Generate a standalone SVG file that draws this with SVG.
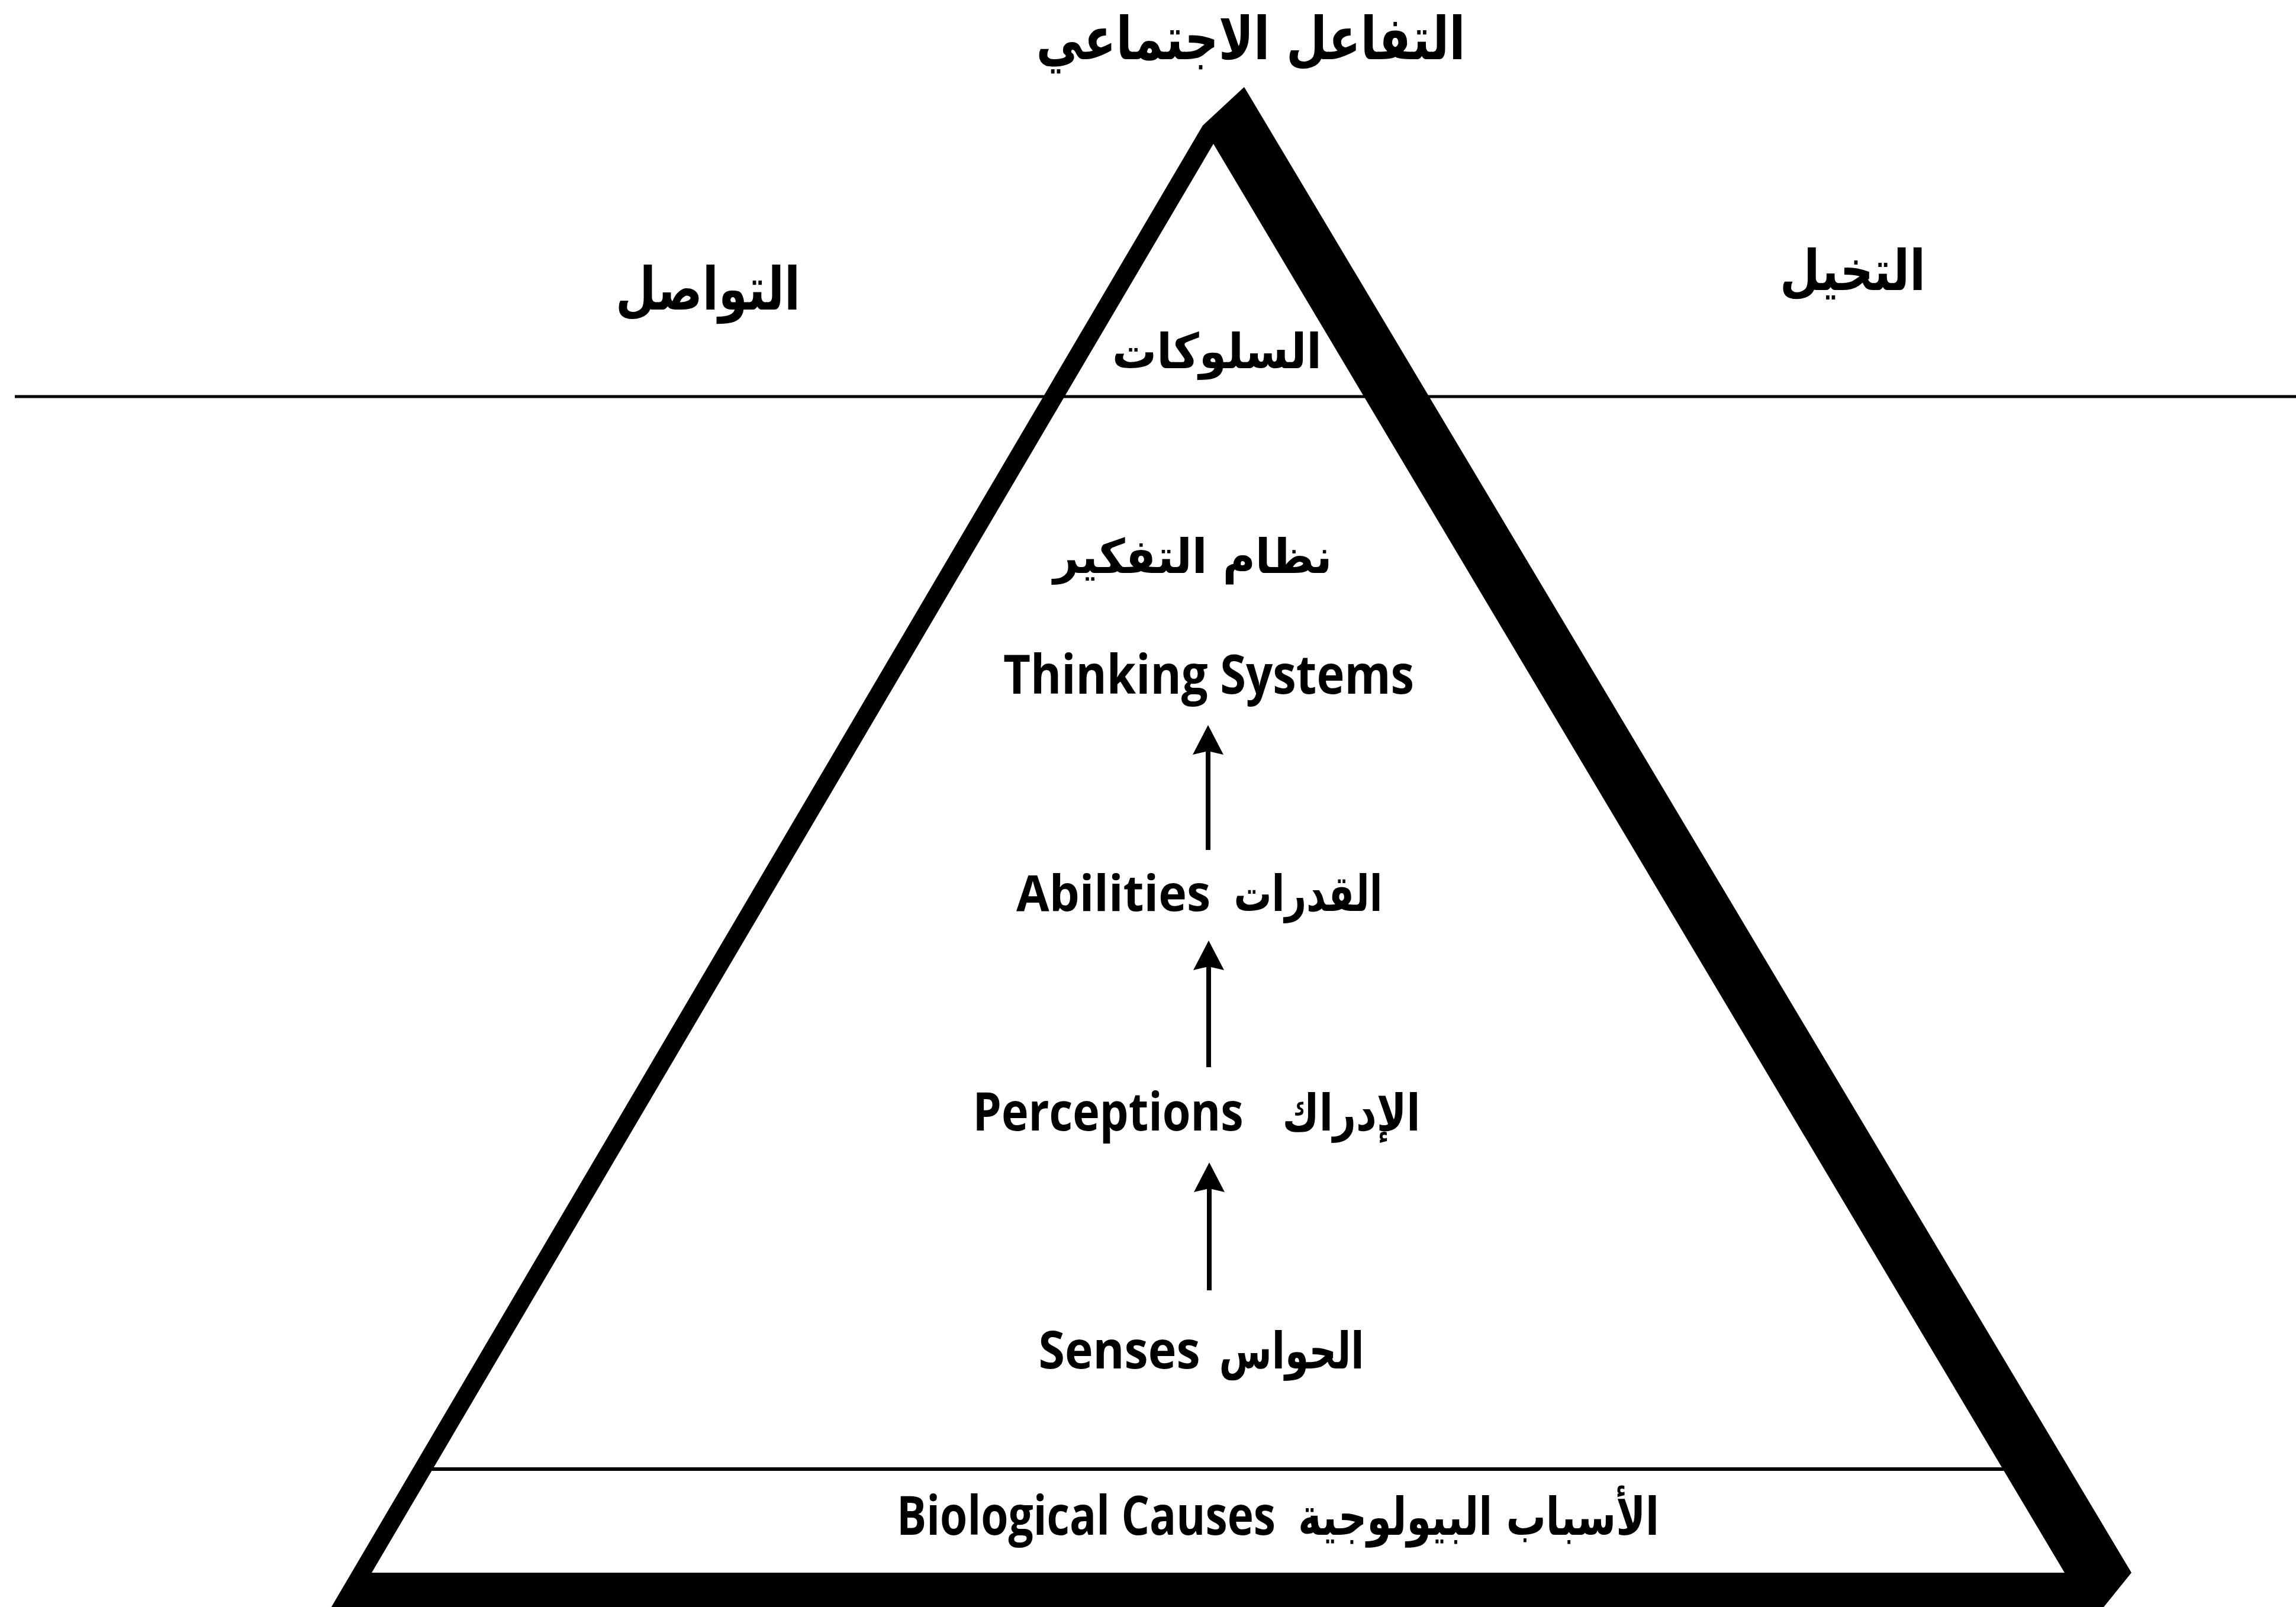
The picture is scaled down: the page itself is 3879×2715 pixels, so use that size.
<svg xmlns="http://www.w3.org/2000/svg" width="3879" height="2715" viewBox="0 0 3879 2715">
  <style>
    .ar { font-family: "DejaVu Sans", "Noto Sans", sans-serif; font-weight: bold; fill: #000; text-anchor: middle; }
    .en { font-family: "Open Sans", "DejaVu Sans", sans-serif; font-weight: 700; fill: #000; text-anchor: middle; }
    .rule { stroke: #000; fill: none; }
    .link { stroke: #000; stroke-width: 8; fill: none; marker-end: url(#head); }
  </style>
  <defs>
    <marker id="head" markerUnits="userSpaceOnUse" markerWidth="60" markerHeight="60" refX="6" refY="27" orient="auto">
      <path d="M50,27 L0,1 L6,27 L0,53 Z" fill="#000"/>
    </marker>
  </defs>

  <rect width="3879" height="2715" fill="#fff"/>

  <!-- surface line and the base divider -->
  <line class="rule" x1="25" y1="670" x2="3879" y2="670" stroke-width="5"/>
  <line class="rule" x1="715" y1="2482" x2="3395" y2="2482" stroke-width="6"/>

  <!-- pyramid outline with heavy shadowed right side and base -->
  <path id="pyramid" fill="#000" fill-rule="evenodd"
        d="M2102,147 L3601,2657 L3542,2730 L551,2730 L2032,212 Z M2050,243 L628,2657 L3488,2657 Z"/>

  <g id="apex-label">
    <text class="ar" x="2113" y="100" font-size="100" textLength="725" lengthAdjust="spacingAndGlyphs">التفاعل الاجتماعي</text>
  </g>
  <g id="communication">
    <text class="ar" x="1196" y="523" font-size="100" textLength="312" lengthAdjust="spacingAndGlyphs">التواصل</text>
  </g>
  <g id="imagination">
    <text class="ar" x="3130" y="490" font-size="95" textLength="246" lengthAdjust="spacingAndGlyphs">التخيل</text>
  </g>
  <g id="behaviours">
    <text class="ar" x="2056" y="622" font-size="82" textLength="354" lengthAdjust="spacingAndGlyphs">السلوكات</text>
  </g>
  <g id="thinking-systems">
    <text class="ar" x="2015" y="968" font-size="80" textLength="471" lengthAdjust="spacingAndGlyphs">نظام التفكير</text>
    <text class="en" x="2042" y="1172" font-size="92" textLength="694" lengthAdjust="spacingAndGlyphs">Thinking Systems</text>
  </g>
  <g id="abilities">
    <text class="en" x="1881" y="1539" font-size="84" textLength="328" lengthAdjust="spacingAndGlyphs">Abilities</text>
    <text class="ar" x="2210" y="1539" font-size="84" textLength="251" lengthAdjust="spacingAndGlyphs">القدرات</text>
  </g>
  <g id="perceptions">
    <text class="en" x="1872" y="1910" font-size="90" textLength="457" lengthAdjust="spacingAndGlyphs">Perceptions</text>
    <text class="ar" x="2283" y="1910" font-size="86" textLength="233" lengthAdjust="spacingAndGlyphs">الإدراك</text>
  </g>
  <g id="senses">
    <text class="en" x="1891" y="2312" font-size="88" textLength="273" lengthAdjust="spacingAndGlyphs">Senses</text>
    <text class="ar" x="2182" y="2312" font-size="86" textLength="245" lengthAdjust="spacingAndGlyphs">الحواس</text>
  </g>
  <g id="biological-causes">
    <text class="en" x="1835" y="2593" font-size="92" textLength="640" lengthAdjust="spacingAndGlyphs">Biological Causes</text>
    <text class="ar" x="2498" y="2593" font-size="88" textLength="610" lengthAdjust="spacingAndGlyphs">الأسباب البيولوجية</text>
  </g>

  <g id="connectors">
    <line class="link" x1="2041" y1="1436" x2="2041" y2="1269"/>
    <line class="link" x1="2042" y1="1803" x2="2042" y2="1633"/>
    <line class="link" x1="2043" y1="2180" x2="2043" y2="2008"/>
  </g>
</svg>
